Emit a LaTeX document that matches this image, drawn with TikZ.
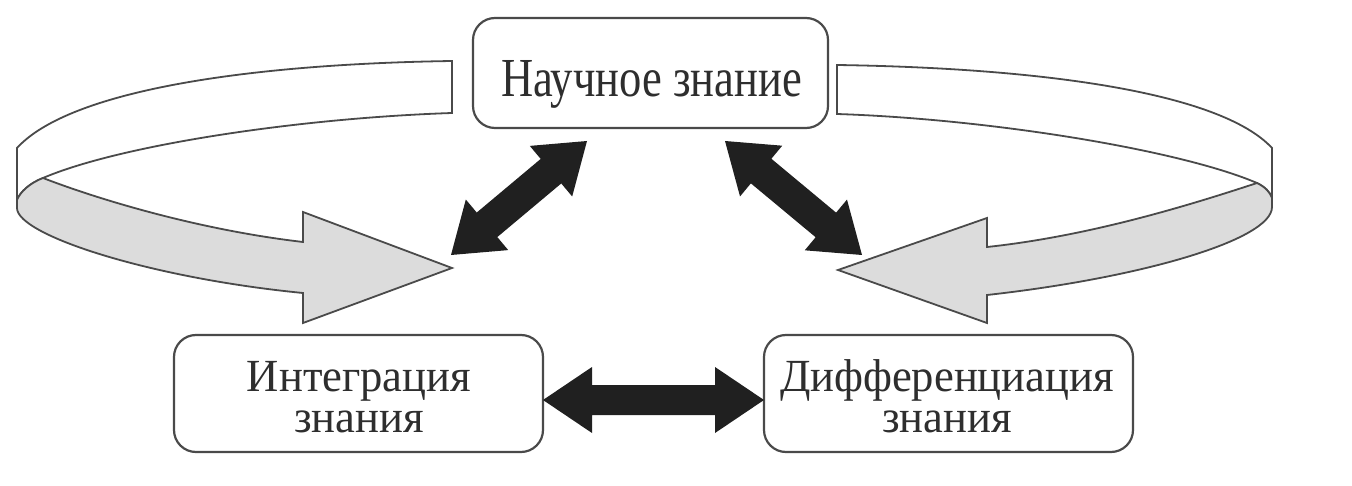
\documentclass[tikz,border=0pt]{standalone}
\usepackage{fontspec}
\setmainfont[FakeStretch=0.81]{Liberation Serif}
\newfontfamily\lowfont[FakeStretch=0.97]{Liberation Serif}
\usetikzlibrary{calc}
\definecolor{ink}{HTML}{2E2E2E}
\definecolor{edge}{HTML}{4A4A4A}
\definecolor{ribfill}{HTML}{DCDCDC}
\definecolor{arrblack}{HTML}{202020}
\newcommand\dblarrow[5]{%
  \fill[arrblack] (#1)
   -- ($(#1)!#3!(#2)!#4!90:(#2)$) -- ($(#1)!#3!(#2)!#5!90:(#2)$)
   -- ($(#2)!#3!(#1)!#5!-90:(#1)$) -- ($(#2)!#3!(#1)!#4!-90:(#1)$)
   -- (#2)
   -- ($(#2)!#3!(#1)!#4!90:(#1)$) -- ($(#2)!#3!(#1)!#5!90:(#1)$)
   -- ($(#1)!#3!(#2)!#5!-90:(#2)$) -- ($(#1)!#3!(#2)!#4!-90:(#2)$)
   -- cycle;}
\begin{document}
\begin{tikzpicture}[x=1pt,y=-1pt,
  box/.style={draw=edge, line width=2.2pt, rounded corners=22pt, fill=white, inner sep=0pt, outer sep=0pt},
  toptxt/.style={text=ink, font=\fontsize{55pt}{60pt}\selectfont, inner sep=0pt, anchor=base},
  lowtxt/.style={text=ink, font=\lowfont\fontsize{46pt}{41pt}\selectfont, inner sep=0pt, anchor=base, align=center},
  ribbon/.style={draw=edge, line width=1.8pt, line join=miter}]
\useasboundingbox (0,0) rectangle (1352,486);
\fill[white] (0,0) rectangle (1352,486);

% left ribbon arrow
\path[ribbon, fill=white] (452,61) .. controls (250,64) and (70,90) .. (17,148) -- (17,200)
  .. controls (20,192) and (30,183) .. (43,178) .. controls (120,145) and (300,118) .. (452,113) -- cycle;
\path[ribbon, fill=ribfill] (43,178) .. controls (100,200) and (200,230) .. (303,242) -- (303,212)
  -- (452,268) -- (303,323) -- (303,293) .. controls (150,278) and (17,235) .. (17,208) -- (17,200)
  .. controls (20,192) and (30,183) .. (43,178) -- cycle;

% right ribbon arrow
\path[ribbon, fill=white] (837,65) .. controls (1040,68) and (1220,92) .. (1272,148) -- (1272,198)
  .. controls (1270,192) and (1265,187) .. (1257,183) .. controls (1180,150) and (990,119) .. (837,114) -- cycle;
\path[ribbon, fill=ribfill] (1257,183) .. controls (1190,205) and (1090,236) .. (987,247) -- (987,218)
  -- (838,270) -- (987,323) -- (987,295) .. controls (1140,278) and (1272,240) .. (1272,207) -- (1272,198)
  .. controls (1270,192) and (1265,187) .. (1257,183) -- cycle;

% boxes
\node[box, minimum width=355pt, minimum height=110pt] (sci) at (650.5,73) {};
\node[box, minimum width=369pt, minimum height=117pt] (integ) at (358.5,393.5) {};
\node[box, minimum width=369pt, minimum height=117pt] (diff) at (948.5,393.5) {};

\node[toptxt] (scitext) at (651.5,97) {Научное знание};
\node[lowtxt] (integtext) at (359,432) {Интеграция\\знания};
\node[lowtxt] (difftext) at (947,432) {Дифференциация\\знания};

% black double arrows
\coordinate (hA) at (integ.east |- 0,400);
\coordinate (hB) at (diff.west |- 0,400);
\coordinate (lA) at (451,255);
\coordinate (lB) at (587,141);
\coordinate (rA) at (725,141);
\coordinate (rB) at (862,255);
\dblarrow{hA}{hB}{49pt}{33pt}{15pt}
\dblarrow{lA}{lB}{47pt}{33pt}{16pt}
\dblarrow{rA}{rB}{47pt}{33pt}{16pt}
\end{tikzpicture}
\end{document}
